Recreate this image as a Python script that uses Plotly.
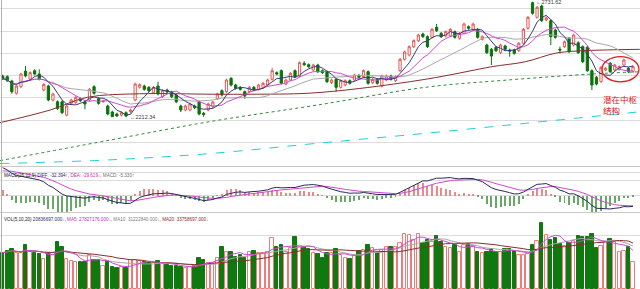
import pandas as pd
import plotly.graph_objects as go

# ---------------- data ----------------
opens = [2398, 2395, 2375.5, 2320, 2350, 2420, 2384, 2422, 2407, 2335,
         2353, 2290, 2282, 2282, 2222, 2275, 2279, 2296, 2281, 2290,
         2350, 2296, 2283, 2263, 2236, 2227, 2222, 2233, 2237.5, 2290,
         2347, 2353, 2347, 2323, 2353, 2305, 2335, 2326, 2312, 2263,
         2245, 2245, 2263, 2281, 2230, 2245, 2260, 2296, 2332, 2327.5,
         2387.5, 2357.5, 2347, 2327.5, 2327.5, 2347, 2338, 2347, 2357.5, 2383,
         2413, 2422, 2362, 2380, 2422, 2398, 2455, 2449, 2425, 2447.5,
         2422, 2417.5, 2368, 2383, 2347, 2357.5, 2377, 2380, 2401, 2395,
         2417.5, 2368, 2383, 2353, 2380, 2398, 2377, 2422, 2473, 2492.5,
         2530, 2557, 2587, 2575, 2572, 2617, 2590, 2578, 2578, 2597.5,
         2567.5, 2590, 2620, 2605, 2608, 2563, 2537.5, 2518, 2527, 2503,
         2533, 2515, 2515, 2512, 2545, 2612.5, 2728, 2662, 2713, 2650,
         2647, 2605, 2518, 2530, 2567.5, 2537.5, 2548, 2530, 2527, 2422,
         2392, 2372.5, 2425, 2455, 2425, 2428, 2447.5, 2432.5, 2417.5]
closes = [2386, 2377, 2327.5, 2353, 2407, 2398, 2413, 2407, 2384, 2360,
          2290, 2317, 2252, 2233, 2263, 2290, 2302, 2287, 2272, 2338,
          2320, 2275, 2285, 2227, 2215, 2218, 2233, 2218, 2245, 2362,
          2359, 2338, 2332, 2347, 2317, 2332, 2326, 2305, 2282, 2245,
          2263, 2272, 2255, 2227, 2225, 2272, 2281, 2317, 2312.5, 2380,
          2357.5, 2342.5, 2338, 2308, 2347, 2335, 2357.5, 2365, 2380, 2422,
          2407, 2365, 2380, 2410, 2395, 2458, 2449, 2440, 2447.5, 2417.5,
          2413, 2372.5, 2380, 2347, 2377, 2377, 2365, 2402.5, 2392, 2422,
          2365, 2383, 2365, 2398, 2398, 2383, 2395, 2473, 2506, 2530,
          2557, 2582.5, 2575, 2530, 2608, 2602, 2575, 2597.5, 2608, 2572,
          2590, 2632, 2612.5, 2632, 2572, 2575, 2503, 2488, 2512, 2537.5,
          2518, 2510, 2500, 2545, 2608, 2662, 2680, 2707, 2647, 2660,
          2575, 2572, 2515, 2552.5, 2507.5, 2582.5, 2503, 2462.5, 2422, 2357.5,
          2362, 2437, 2432.5, 2417.5, 2447.5, 2440, 2470, 2417.5, 2440]
highs = [2404, 2401, 2381, 2358, 2412, 2443, 2419, 2428, 2428, 2366,
         2359, 2323, 2288, 2288, 2269, 2296, 2308, 2302, 2287, 2344,
         2356, 2302, 2291, 2269, 2242, 2233, 2239, 2239, 2251, 2368,
         2365, 2359, 2353, 2353, 2372, 2338, 2341, 2332, 2318, 2269,
         2269, 2278, 2269, 2287, 2236, 2278, 2287, 2323, 2338, 2386,
         2393, 2363, 2353, 2333, 2353, 2353, 2363, 2371, 2386, 2435,
         2419, 2428, 2386, 2416, 2428, 2464, 2465, 2455, 2453, 2453,
         2428, 2423, 2386, 2389, 2383, 2383, 2383, 2408, 2407, 2428,
         2423, 2389, 2389, 2404, 2404, 2404, 2401, 2479, 2512, 2536,
         2563, 2588, 2593, 2581, 2614, 2632, 2596, 2603, 2614, 2603,
         2596, 2638, 2626, 2638, 2614, 2581, 2543, 2524, 2533, 2543,
         2539, 2521, 2521, 2551, 2614, 2668, 2731.62, 2713, 2719, 2666,
         2653, 2611, 2530, 2558, 2573, 2588, 2554, 2536, 2533, 2428,
         2398, 2443, 2439, 2461, 2453, 2446, 2476, 2439, 2446]
lows = [2380, 2371, 2318, 2314, 2344, 2392, 2378, 2401, 2378, 2329,
        2284, 2284, 2246, 2226, 2216, 2269, 2273, 2281, 2248, 2284,
        2314, 2269, 2277, 2221, 2214, 2214, 2216, 2212.34, 2231, 2284,
        2341, 2332, 2326, 2317, 2311, 2299, 2320, 2299, 2276, 2236,
        2239, 2239, 2249, 2221, 2214, 2239, 2254, 2290, 2306, 2321,
        2351, 2336, 2332, 2296, 2321, 2329, 2332, 2341, 2351, 2377,
        2401, 2359, 2356, 2374, 2389, 2392, 2443, 2434, 2419, 2411,
        2407, 2366, 2362, 2327.5, 2341, 2351, 2359, 2374, 2386, 2389,
        2359, 2362, 2359, 2347, 2374, 2377, 2371, 2416, 2467, 2486,
        2524, 2551, 2569, 2524, 2566, 2596, 2569, 2572, 2572, 2566,
        2561, 2584, 2606, 2599, 2566, 2557, 2497, 2447.5, 2506, 2497,
        2512, 2485, 2494, 2506, 2539, 2606, 2674, 2656, 2641, 2644,
        2537.5, 2566, 2500, 2524, 2501, 2531, 2497, 2456, 2416, 2335,
        2356, 2366, 2419, 2411, 2419, 2422, 2441, 2411, 2411]
volumes_m = [27.7, 29.2, 30.3, 27.7, 27.2, 33.6, 28.5, 27.2, 26.7, 22.6,
             26.7, 27.7, 36.1, 31.8, 22.6, 21.6, 20.9, 20.9, 20.9, 25.9,
             22.1, 22.1, 17.5, 20.9, 16.5, 16.0, 16.5, 15.8, 22.1, 22.1,
             21.6, 20.9, 19.6, 20.1, 21.6, 19.1, 18.3, 17.5, 17.5, 17.0,
             15.8, 17.0, 17.5, 23.4, 22.1, 19.6, 19.6, 23.4, 31.8, 28.5,
             28.5, 24.7, 25.9, 23.4, 28.5, 29.2, 27.7, 27.2, 28.5, 38.7,
             32.3, 33.6, 28.5, 31.0, 39.9, 31.8, 31.8, 30.3, 27.2, 26.7,
             23.4, 27.2, 27.2, 30.3, 25.9, 23.4, 22.6, 25.9, 29.2, 29.8,
             33.6, 31.0, 27.7, 29.8, 31.8, 31.8, 32.3, 34.8, 42.0, 41.2,
             37.4, 42.0, 35.3, 37.4, 36.1, 40.4, 36.1, 32.3, 31.0, 33.6,
             28.5, 33.6, 34.1, 32.8, 28.5, 27.2, 28.5, 30.3, 28.5, 28.5,
             30.3, 30.3, 29.2, 25.9, 25.9, 26.7, 33.6, 36.9, 50.6, 41.2,
             37.4, 38.7, 34.3, 32.8, 34.8, 36.9, 40.4, 39.4, 39.9, 42.0,
             31.0, 32.8, 36.1, 37.9, 36.1, 28.5, 29.2, 31.8, 20.9]

# long moving averages (candle index, value)
ma60_x = [-0.6, 10.4, 18.5, 30, 46, 54.8, 66.6, 78.2, 92.5, 99.7, 107.1, 114.4, 120.9, 125.3, 139.5]
ma60_v = [2188, 2245, 2302, 2318, 2316, 2316, 2320, 2342, 2383, 2410, 2440, 2462, 2500, 2510, 2518]
ma120_x = [-0.6, 22.8, 46, 68.8, 92.5, 110.6, 129, 139.5]
ma120_v = [2017, 2107, 2195, 2267, 2347, 2380, 2407, 2417]
ma250_x = [-0.6, 22.8, 46, 68.8, 92.5, 114.4, 139.5]
ma250_v = [2004, 2020, 2050, 2095, 2140, 2185, 2237]

DIFF_START = 88.0
DEA_START = 78.0

macd_title = ("MACD(26,12,9) <span style='color:#2a2a70'>DIFF: -32.394</span><span style='color:#e02020'>↑</span>, "
              "<span style='color:#c030c0'>DEA: -29.619</span><span style='color:#e02020'>↓</span>, "
              "<span style='color:#707070'>MACD: -5.330</span><span style='color:#e02020'>↑</span>")
vol_title = ("VOL(5,10,20) <span style='color:#2a2a70'>20836697.000</span><span style='color:#20a020'>↓</span>, "
             "<span style='color:#c030c0'>MA5: 27827176.000</span><span style='color:#20a020'>↓</span>, "
             "<span style='color:#808080'>MA10: 31222840.000</span><span style='color:#20a020'>↓</span>, "
             "<span style='color:#8b2d2d'>MA20: 33758697.000</span><span style='color:#20a020'>↓</span>")
note_text = "潜在中枢<br>结构"

# ---------------- derived ----------------
n = len(closes)
idx = list(range(n))
cs = pd.Series(closes)
ma5 = cs.rolling(5, min_periods=1).mean()
ma10 = cs.rolling(10, min_periods=1).mean()
ma20 = cs.rolling(20, min_periods=1).mean()

ema12 = closes[0]
ema26 = closes[0] - DIFF_START
dea = DEA_START
diff_l, dea_l, hist = [], [], []
for i, p in enumerate(closes):
    if i > 0:
        ema12 = ema12 * 11 / 13 + p * 2 / 13
        ema26 = ema26 * 25 / 27 + p * 2 / 27
    d = ema12 - ema26
    if i > 0:
        dea = dea * 0.8 + d * 0.2
    diff_l.append(d)
    dea_l.append(dea)
    hist.append(2 * (d - dea))

vs = pd.Series(volumes_m)
vma5 = vs.rolling(5, min_periods=1).mean()
vma10 = vs.rolling(10, min_periods=1).mean()
vma20 = vs.rolling(20, min_periods=1).mean()

up = [c >= o for o, c in zip(opens, closes)]

W, H = 640, 289
def py(p):
    return 1 - p / H

XR = [-0.59, 139.53]

fig = go.Figure()
fig.add_trace(go.Candlestick(
    x=idx, open=opens, high=highs, low=lows, close=closes,
    increasing=dict(line=dict(color='#e85858', width=1), fillcolor='#ffffff'),
    decreasing=dict(line=dict(color='#0b720b', width=1), fillcolor='#0b720b'),
    whiskerwidth=0, xaxis='x', yaxis='y', hoverinfo='skip'))

for xs, ys, col, dash in [
        (ma250_x, ma250_v, '#22cfd6', 'dash'),
        (ma120_x, ma120_v, '#2f8a3a', 'dot'),
        (ma60_x, ma60_v, '#8b2d2d', 'solid')]:
    fig.add_trace(go.Scatter(x=xs, y=ys, mode='lines', line=dict(color=col, width=1, dash=dash, shape='spline'),
                             xaxis='x', yaxis='y'))
for ys, col in [(ma20, '#a8a8a8'), (ma10, '#d048d0'), (ma5, '#3a3a7a')]:
    fig.add_trace(go.Scatter(x=idx, y=ys, mode='lines', line=dict(color=col, width=1), xaxis='x', yaxis='y'))

# MACD
fig.add_trace(go.Bar(x=idx, y=hist, width=0.22,
                     marker=dict(color=['#e88a8a' if h >= 0 else '#6aa86a' for h in hist], line=dict(width=0)),
                     xaxis='x2', yaxis='y2'))
fig.add_trace(go.Scatter(x=idx, y=dea_l, mode='lines', line=dict(color='#d048d0', width=1), xaxis='x2', yaxis='y2'))
fig.add_trace(go.Scatter(x=idx, y=diff_l, mode='lines', line=dict(color='#2a2a5a', width=1), xaxis='x2', yaxis='y2'))

# Volume
fig.add_trace(go.Bar(x=idx, y=volumes_m, width=0.74,
                     marker=dict(color=['#ffffff' if u else '#0f780f' for u in up],
                                 line=dict(color=['#f07a7a' if u else '#0f780f' for u in up], width=1)),
                     xaxis='x3', yaxis='y3'))
for ys, col in [(vma10, '#a8a8a8'), (vma20, '#8b2d2d'), (vma5, '#d048d0')]:
    fig.add_trace(go.Scatter(x=idx, y=ys, mode='lines', line=dict(color=col, width=1), xaxis='x3', yaxis='y3'))

ax = dict(range=XR, showgrid=False, zeroline=False, showticklabels=False, ticks='', showline=False, fixedrange=True)
grid = '#dcdcdc'
fig.update_layout(
    width=W, height=H, margin=dict(l=0, r=0, t=0, b=0),
    paper_bgcolor='white', plot_bgcolor='white', showlegend=False, bargap=0,
    font=dict(family='Liberation Sans'),
    xaxis=dict(ax, domain=[0, 1], anchor='y', rangeslider=dict(visible=False)),
    xaxis2=dict(ax, domain=[0, 1], anchor='y2'),
    xaxis3=dict(ax, domain=[0, 1], anchor='y3'),
    yaxis=dict(domain=[py(166), 1], range=[1993, 2740], tickvals=[2100, 2200, 2300, 2400, 2500, 2600, 2700],
               showgrid=True, gridcolor=grid, gridwidth=1, showticklabels=False, zeroline=False, ticks=''),
    yaxis2=dict(domain=[py(212), py(167)], range=[-50, 90], tickvals=[-49, 0, 49, 73],
                showgrid=True, gridcolor=grid, gridwidth=1, showticklabels=False, zeroline=False, ticks=''),
    yaxis3=dict(domain=[0, py(213)], range=[0, 58], tickvals=[41.2],
                showgrid=True, gridcolor=grid, gridwidth=1, showticklabels=False, zeroline=False, ticks=''),
)

shapes = [
    dict(type='line', xref='paper', yref='paper', x0=0, x1=1, y0=py(166.5), y1=py(166.5), line=dict(color='#c8c8c8', width=1)),
    dict(type='line', xref='paper', yref='paper', x0=0, x1=1, y0=py(212.5), y1=py(212.5), line=dict(color='#c8c8c8', width=1)),
    dict(type='line', xref='paper', yref='paper', x0=1.5 / W, x1=1.5 / W, y0=0, y1=1, line=dict(color='#b0b0b0', width=1)),
    dict(type='circle', xref='x', yref='y', x0=131.2, x1=139.3, y0=2372, y1=2485, line=dict(color='#e02020', width=1.3)),
]
fig.update_layout(shapes=shapes)

lo_i = lows.index(min(lows))
hi_i = highs.index(max(highs))
annos = [
    dict(xref='paper', yref='paper', x=0.003, y=py(175), xanchor='left', yanchor='middle', showarrow=False,
         text=macd_title, font=dict(size=4.6, color='#202020')),
    dict(xref='paper', yref='paper', x=0.003, y=py(219.5), xanchor='left', yanchor='middle', showarrow=False,
         text=vol_title, font=dict(size=4.6, color='#202020')),
    dict(xref='x', yref='y', x=lo_i + 0.4, y=lows[lo_i], xanchor='left', yanchor='middle', showarrow=False,
         text='←%.2f' % lows[lo_i], font=dict(size=5.5, color='#404040')),
    dict(xref='x', yref='y', x=hi_i + 0.4, y=highs[hi_i], xanchor='left', yanchor='middle', showarrow=False,
         text='←%.2f' % highs[hi_i], font=dict(size=5.5, color='#404040')),
    dict(xref='x', yref='y', x=131.0, y=2330, xanchor='left', yanchor='top', showarrow=False, align='left',
         text=note_text, font=dict(size=8.5, color='#e02020', family='Noto Sans CJK SC')),
]
fig.update_layout(annotations=annos)

fig.write_html("out.html")
